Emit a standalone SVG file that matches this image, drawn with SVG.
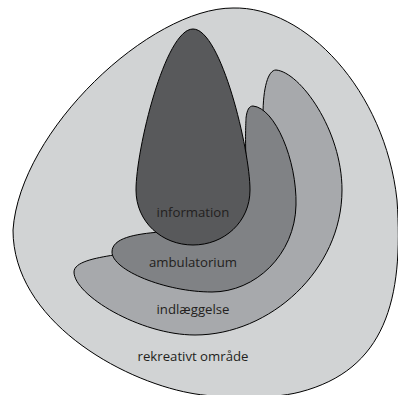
<svg xmlns="http://www.w3.org/2000/svg" width="398" height="395" viewBox="0 0 398 395">
<style>
.shape{stroke:#000;stroke-width:1;stroke-linejoin:round}
.lbl{font-family:"Open Sans","Noto Sans","Liberation Sans",sans-serif;font-size:13.2px;fill:#231f20;text-anchor:middle}
</style>
<rect width="398" height="395" fill="#fff"/>
<g id="rekreativt">
<path class="shape" fill="#d1d3d4" d="M 233 8 C 305 6, 385 90, 397 200 C 404 300, 385 370, 300 392 C 270 400, 215 398, 190 393 C 120 380, 13 320, 13 230 C 20 130, 150 8, 233 8 Z"/>
<text class="lbl" x="193" y="361">rekreativt område</text>
</g>
<g id="indlaeggelse">
<path class="shape" fill="#a7a9ac" d="M 276 70 C 300 72, 342 130, 342 190 C 342 270, 270 335, 195 335 C 140 335, 74 295, 74 272 C 74 262, 95 258, 114 255 L 240 250 L 270 140 L 263 115 C 263 88, 268 70, 276 70 Z"/>
<text class="lbl" x="193" y="314">indlæggelse</text>
</g>
<g id="ambulatorium">
<path class="shape" fill="#808285" d="M 253 106 C 275 108, 297 160, 296 205 C 295 255, 255 292, 212 292 C 165 292, 112 270, 112 252 C 112 238, 135 234, 160 232 L 220 200 L 246 160 C 245 135, 246 120, 246 118 C 247 110, 249 106, 253 106 Z"/>
<text class="lbl" x="193" y="267">ambulatorium</text>
</g>
<g id="information">
<path class="shape" fill="#58595b" d="M 193 29 C 165 29, 136 150, 136 190 C 136 222, 162 245, 193 245 C 224 245, 250 222, 250 190 C 250 150, 221 29, 193 29 Z"/>
<text class="lbl" x="193" y="217">information</text>
</g>
<g id="connectors"/>
</svg>
